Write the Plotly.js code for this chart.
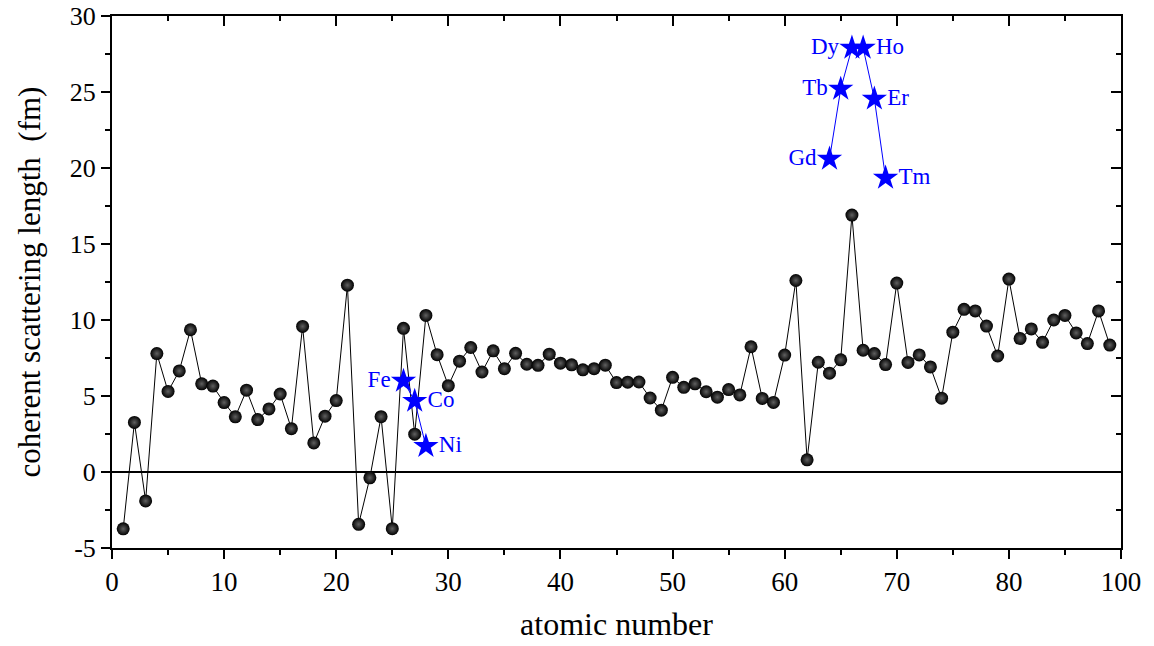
<!DOCTYPE html>
<html>
<head>
<meta charset="utf-8">
<script src="https://cdn.plot.ly/plotly-3.0.1.min.js"></script>
<style>html,body{margin:0;padding:0;background:#fff;}#chart{width:1154px;height:646px;}</style>
</head>
<body>
<div id="chart"></div>
<script>
// atomic numbers
const atomicNumber = [1,2,3,4,5,6,7,8,9,10,11,12,13,14,15,16,17,18,19,20,
  21,22,23,24,25,26,27,28,29,30,31,32,33,34,35,36,37,38,39,40,
  41,42,43,44,45,46,47,48,49,50,51,52,53,54,55,56,57,58,59,60,
  61,62,63,64,65,66,67,68,69,70,71,72,73,74,75,76,77,78,79,80,
  81,82,83,84,85,86,87,88,89];
// coherent scattering length (fm)
const scatteringLength = [-3.74,3.26,-1.90,7.79,5.30,6.65,9.36,5.80,5.65,4.57,
  3.63,5.38,3.45,4.15,5.13,2.85,9.58,1.91,3.67,4.70,
  12.29,-3.44,-0.38,3.64,-3.73,9.45,2.49,10.3,7.72,5.68,
  7.29,8.19,6.58,7.97,6.80,7.81,7.09,7.02,7.75,7.16,
  7.05,6.72,6.80,7.03,5.88,5.91,5.92,4.87,4.07,6.23,
  5.57,5.80,5.28,4.92,5.42,5.07,8.24,4.84,4.58,7.69,
  12.6,0.80,7.22,6.50,7.38,16.9,8.01,7.79,7.07,12.43,
  7.21,7.70,6.91,4.86,9.20,10.7,10.6,9.60,7.63,12.69,
  8.78,9.41,8.53,10.0,10.3,9.15,8.45,10.6,8.35];

// magnetic elements (blue stars)
const tmZ = [26,27,28];
const tmValue = [5.99,4.67,1.70];
const tmLabel = ['Fe','Co','Ni'];
const reZ = [64,65,66,67,68,69];
const reValue = [20.6,25.2,27.9,27.9,24.55,19.35];
const reLabel = ['Gd','Tb','Dy','Ho','Er','Tm'];

// axis ticks
const xTickVals = [0,10,20,30,40,50,60,70,80,90];
const xTickText = ['0','10','20','30','40','50','60','70','80','100'];
const yTickVals = [-5,0,5,10,15,20,25,30];
const yTickText = ['-5','0','5','10','15','20','25','30'];

// styles
const tmTextPos = ['middle left','middle right','middle right'];
const reTextPos = ['middle left','middle left','middle left','middle right','middle right','middle right'];
const serif = 'Liberation Serif, Times New Roman, serif';
const blue = '#0000ff';

const traces = [
  {
    x: atomicNumber, y: scatteringLength, type: 'scatter', mode: 'lines+markers',
    line: {color: '#000', width: 1},
    marker: {size: 13, color: '#000', gradient: {type: 'radial', color: '#606060'}, line: {width: 0}},
    hoverinfo: 'x+y', showlegend: false
  },
  {
    x: tmZ, y: tmValue, text: tmLabel, type: 'scatter', mode: 'lines+markers+text',
    textposition: tmTextPos, textfont: {family: serif, size: 23, color: blue},
    line: {color: blue, width: 1},
    marker: {symbol: 'star', size: 19, color: blue, line: {width: 0}},
    showlegend: false
  },
  {
    x: reZ, y: reValue, text: reLabel, type: 'scatter', mode: 'lines+markers+text',
    textposition: reTextPos, textfont: {family: serif, size: 23, color: blue},
    line: {color: blue, width: 1},
    marker: {symbol: 'star', size: 19, color: blue, line: {width: 0}},
    showlegend: false
  },
  {
    x: atomicNumber, y: scatteringLength, xaxis: 'x2', yaxis: 'y2', type: 'scatter', mode: 'markers',
    marker: {opacity: 0}, hoverinfo: 'skip', showlegend: false
  }
];

const layout = {
  width: 1154, height: 646,
  margin: {l: 112, r: 33, t: 16, b: 98},
  paper_bgcolor: '#fff', plot_bgcolor: '#fff',
  font: {family: serif, color: '#000', size: 26},
  xaxis: {
    range: [0, 90], tickmode: 'array', tickvals: xTickVals, ticktext: xTickText,
    showgrid: false, zeroline: false, showline: true, linecolor: '#000', linewidth: 2,
    ticks: 'outside', ticklen: 9, tickwidth: 2, tickcolor: '#000', ticklabeloverflow: 'allow',
    minor: {tickmode: 'linear', tick0: 0, dtick: 5, ticks: 'outside', ticklen: 5, tickwidth: 2, tickcolor: '#000'},
    tickfont: {family: serif, size: 27, color: '#000'},
    title: {text: 'atomic number', font: {family: serif, size: 32, color: '#000'}, standoff: 16},
    automargin: false
  },
  yaxis: {
    range: [-5, 30], tickmode: 'array', tickvals: yTickVals, ticktext: yTickText,
    showgrid: false, zeroline: true, zerolinecolor: '#000', zerolinewidth: 2,
    showline: true, linecolor: '#000', linewidth: 2,
    ticks: 'outside', ticklen: 9, tickwidth: 2, tickcolor: '#000', ticklabeloverflow: 'allow',
    minor: {tickmode: 'linear', tick0: 0, dtick: 2.5, ticks: 'outside', ticklen: 5, tickwidth: 2, tickcolor: '#000'},
    tickfont: {family: serif, size: 26, color: '#000'},
    title: {text: 'coherent scattering length \u00a0(fm)', font: {family: serif, size: 31, color: '#000'}, standoff: 20},
    automargin: false
  },
  xaxis2: {
    overlaying: 'x', side: 'top', range: [0, 90], tickmode: 'array', tickvals: xTickVals,
    showticklabels: false, showgrid: false, zeroline: false, showline: true, linecolor: '#000', linewidth: 2,
    ticks: 'inside', ticklen: 10, tickwidth: 2, tickcolor: '#000',
    minor: {tickmode: 'linear', tick0: 0, dtick: 5, ticks: 'inside', ticklen: 5, tickwidth: 2, tickcolor: '#000'}
  },
  yaxis2: {
    overlaying: 'y', side: 'right', range: [-5, 30], tickmode: 'array', tickvals: yTickVals,
    showticklabels: false, showgrid: false, zeroline: false, showline: true, linecolor: '#000', linewidth: 2,
    ticks: 'inside', ticklen: 10, tickwidth: 2, tickcolor: '#000',
    minor: {tickmode: 'linear', tick0: 0, dtick: 2.5, ticks: 'inside', ticklen: 5, tickwidth: 2, tickcolor: '#000'}
  }
};

Plotly.newPlot('chart', traces, layout, {displayModeBar: false, staticPlot: true});
</script>
</body>
</html>
